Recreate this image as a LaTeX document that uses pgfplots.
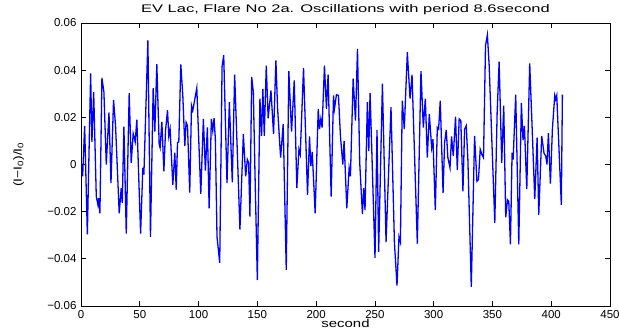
\documentclass[border=0pt]{standalone}
\usepackage{fontspec}
\setmainfont{Liberation Sans}
\newfontfamily\titlefont{Liberation Sans}[FakeStretch=1.5]
\newfontfamily\xlabfont{Liberation Sans}[FakeStretch=1.3]
\newfontfamily\ylabfont{Liberation Sans}[FakeStretch=1.2]
\usepackage{pgfplots}
\pgfplotsset{compat=1.18}
\begin{document}
\begin{tikzpicture}
\begin{axis}[
  scale only axis, width=529bp, height=283bp,
  xmin=0, xmax=450, ymin=-0.06, ymax=0.06,
  scaled y ticks=false, scaled x ticks=false,
  xtick={0,50,100,150,200,250,300,350,400,450},
  xticklabels={0,50,100,150,200,250,300,350,400,450},
  ytick={-0.06,-0.04,-0.02,0,0.02,0.04,0.06},
  yticklabels={−0.06,−0.04,−0.02,0,0.02,0.04,0.06},
  tick align=inside, tick pos=both, major tick length=5bp,
  axis line style={line width=0.7bp}, every tick/.style={line width=0.7bp, black},
  ticklabel style={font=\fontsize{11.5bp}{13bp}\selectfont},
  title={EV Lac, Flare No 2a. Oscillations with period 8.6second},
  title style={font=\titlefont\fontsize{11bp}{13bp}\selectfont, at={(axis description cs:0.5,1.046)}, anchor=center, yshift=-6pt},
  xlabel={second},
  xlabel style={font=\xlabfont\fontsize{11.5bp}{13bp}\selectfont, at={(axis description cs:0.5,-0.062)}, anchor=center},
  ylabel={(I−I\textsubscript{0})/I\textsubscript{0}},
  ylabel style={font=\ylabfont\fontsize{11.5bp}{13bp}\selectfont, at={(axis description cs:-0.118,0.5)}, anchor=center},
  xticklabel style={yshift=-1bp},
  yticklabel style={xshift=-1bp},
]
\addplot[color={rgb,1:red,0;green,0;blue,1}, line width=1.3bp, mark=none] coordinates {
(0.85,0) (1.4,-0.005) (3.1,0.0164) (5.4,-0.0296) (8.2,0.0386) (9.3,0.0096) (10.8,0.0307)
(13.0,-0.0136) (14.4,-0.0171) (15.0,-0.0143) (16.1,-0.0207) (17.8,0.0367) (19.5,0.0307)
(21.5,0) (23.8,0.0221) (25.5,-0.0079) (27.7,0.0274) (29.4,0.0164) (32.5,-0.0207)
(34.2,-0.01) (35.1,-0.0164) (36.5,0.0161) (38.5,-0.0293) (41.0,0.0303) (42.7,0.0007)
(44.4,0.0131) (46.1,0.0096) (47.5,0.019) (50.7,-0.0293) (52.6,-0.0014) (53.5,-0.0043)
(56.9,0.0526) (59.1,-0.0307) (61.4,0.0324) (62.8,0.0139) (64.5,0.0426) (66.5,0.0086)
(67.3,0.0071) (68.8,0.0181) (70.5,-0.0029) (71.9,0.0143)
(73.6,0.023) (74.7,0.012) (75.8,0.015) (78.1,-0.0086) (79.8,0.005) (81.0,-0.0107)
(82.1,0.0093) (83.2,0.0096) (84.9,0.0424) (86.6,0.0293) (88.3,0.0079) (89.4,0.0179)
(90.6,0.0164) (92.5,-0.0119) (94.0,0.025) (95.1,0.0229) (98.5,0.0324) (101.9,-0.0124)
(104.1,0.0193) (105.8,-0.0026) (107.5,0.0157) (109.0,-0.0186) (110.9,0.0193) (112.1,0.0143)
(113.2,0.0196) (114.3,0.0107) (115.7,-0.0307) (118.0,-0.0417) (120.0,0.0414) (121.4,0.0464)
(124.2,-0.0079) (126.2,0.0264) (128.7,-0.0076) (130.7,0.0381) (133.0,0.005) (135.2,-0.0276)
(138.1,0.0129) (140.1,-0.005) (141.5,0.0021) (142.6,0.0007) (143.7,-0.0221)
(145.2,0.0371) (146.6,0.0307) (148.0,-0.0036) (150.0,-0.049) (152.2,0.0279) (153.6,0.0121)
(154.7,0.0321) (155.9,0.0121) (157.6,0.0419) (159.2,0.0196) (161.6,0.0314) (163.8,0.0129)
(165.8,0.0441) (167.2,0.0241) (169.8,0.0029) (172.0,0.0171) (174.6,-0.0447) (176.8,0.0396)
(179.1,0.0139) (181.4,0.0357) (183.6,-0.01) (185.4,0.0064) (186.5,0.0043) (189.3,0.041)
(192.7,-0.0129) (194.4,0.0119) (195.5,-0.0007) (196.7,0.0053) (199.2,-0.0207) (201.8,0.0236)
(202.9,0.015) (204.0,0.0193) (205.1,0.0157) (207.1,0.0419) (208.8,0.0236) (210.2,0.0381)
(212.8,-0.0136) (214.8,0.0293) (215.6,0.0236) (217.3,0.0296)
(219.0,0.0293) (220.7,0.0121) (222.7,0) (223.8,0.01) (226.1,-0.0186) (228.1,-0.0014)
(229.2,-0.005) (231.5,0.0364) (233.5,0.0186) (235.2,0.049) (237.1,0.0007) (239.4,-0.021)
(240.5,-0.01) (241.6,-0.0193) (243.6,0.0264) (244.8,0.0057) (245.9,0.0304) (250.1,-0.0396)
(251.8,0.0147) (253.2,-0.0371) (256.4,0.0343) (259.5,-0.0329) (263.7,0.0243) (266.6,-0.0329)
(268.8,-0.0514) (270.5,-0.0307) (271.7,-0.0329) (273.3,0.0271) (275.0,0.015) (277.6,0.0476)
(279.9,0.0279) (281.6,0.0381) (286.1,-0.0336) (289.2,0.0396) (291.2,0.0157)
(292.9,0.0279) (294.6,0.0029) (296.3,0.0214) (298.3,0.0071) (299.4,0.0107) (301.4,-0.0193)
(303.1,0.0157) (304.2,0.015) (305.6,0.0271) (308.0,-0.0121) (309.3,0.0093) (310.7,0.0147)
(312.1,0.0029) (313.9,-0.0014) (315.2,0.0119) (316.7,0.0036) (318.6,0.0203) (320.1,-0.0024)
(321.7,0.0193) (323.1,0.0186) (324.9,-0.0114) (326.3,0.015) (327.7,0.0164) (329.1,0.0021)
(332.0,-0.0519) (334.8,0.0121) (336.8,-0.0071) (338.1,-0.0064) (339.6,0.0064) (341.0,0.0043)
(342.4,0.0029) (344.1,0.0504) (345.7,0.055) (347.2,0.0421) (352.0,-0.0247) (354.0,0.0221)
(355.7,0.0436) (357.9,0.0007) (359.6,0.025) (361.3,-0.0224) (362.8,-0.015) (363.9,-0.0157)
(365.3,-0.0339)
(366.7,0.005) (367.6,0.0021) (369.8,0.0296) (372.4,-0.0339) (374.6,0.0261) (376.0,0.0103)
(377.2,0.0164) (379.2,-0.0104) (381.7,0.0429) (383.7,0.0164) (386.0,-0.0147) (388.0,0.0114)
(389.4,-0.0214) (391.9,0.0121) (393.9,0.0047) (395.3,0.0036) (396.4,0) (397.6,0.0133)
(399.3,-0.0081) (401.0,0.015) (403.0,0.0293) (403.8,0.0276) (404.7,0.0293) (408.6,-0.0171)
(409.5,0.0296)
};
\end{axis}
\pgfresetboundingbox
\path[use as bounding box] ([shift={(-81bp,-23bp)}]current axis.south west) rectangle ([shift={(9bp,23bp)}]current axis.north east);
\end{tikzpicture}
\end{document}
